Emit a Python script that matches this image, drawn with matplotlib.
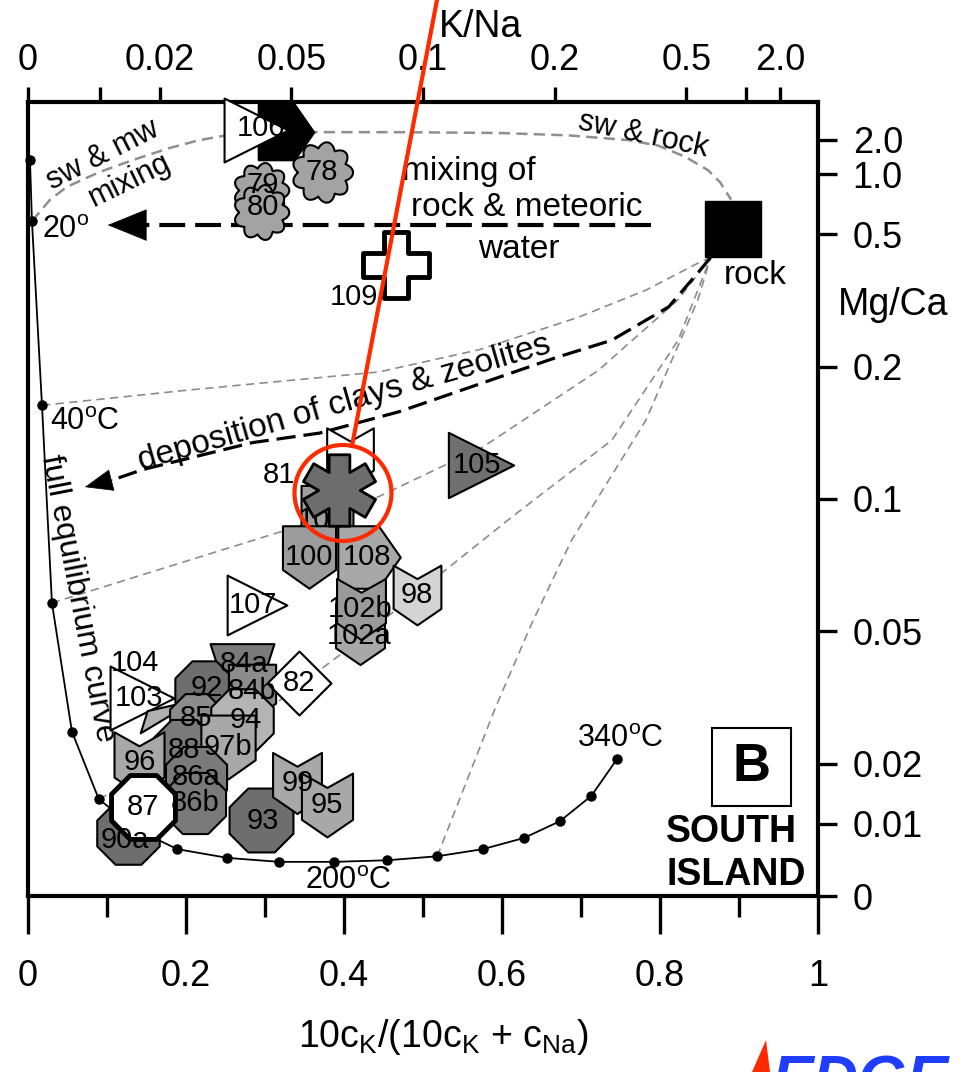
import numpy as np
import matplotlib
matplotlib.use('Agg')
import matplotlib.pyplot as plt
from matplotlib.path import Path
from matplotlib.patches import Rectangle, Ellipse, Polygon
from matplotlib.lines import Line2D

plt.rcParams['font.family'] = ['Liberation Sans', 'DejaVu Sans']
plt.rcParams['mathtext.fontset'] = 'custom'
plt.rcParams['mathtext.rm'] = 'Liberation Sans'
plt.rcParams['mathtext.it'] = 'Liberation Sans:italic'
plt.rcParams['mathtext.bf'] = 'Liberation Sans:bold'

# ---------------- data ----------------
# axis tick values
x_major = [0, 0.2, 0.4, 0.6, 0.8, 1.0]
x_major_labels = ['0', '0.2', '0.4', '0.6', '0.8', '1']
x_minor = [0.1, 0.3, 0.5, 0.7, 0.9]
kna_ticks = [0, 0.01, 0.02, 0.05, 0.1, 0.2, 0.5, 1.0, 2.0]
kna_labels = ['0', '', '0.02', '0.05', '0.1', '0.2', '0.5', '', '2.0']
mgca_ticks = [0, 0.01, 0.02, 0.05, 0.1, 0.2, 0.5, 1.0, 2.0]
mgca_labels = ['0', '0.01', '0.02', '0.05', '0.1', '0.2', '0.5', '1.0', '2.0']

# full equilibrium curve (0 .. 340 C)
eq_x = [0.0025, 0.005, 0.0177, 0.0303, 0.0556, 0.0896, 0.139, 0.189, 0.2525, 0.318,
        0.3876, 0.4545, 0.5177, 0.5758, 0.6275, 0.673, 0.713, 0.746]
eq_y = [0.927, 0.850, 0.618, 0.369, 0.207, 0.122, 0.083, 0.059, 0.048, 0.043,
        0.043, 0.045, 0.050, 0.059, 0.073, 0.094, 0.126, 0.173]

# seawater & meteoric water mixing -> seawater & rock
sw_x = [0.005, 0.028, 0.049, 0.091, 0.133, 0.179, 0.217, 0.268, 0.356, 0.470, 0.596,
        0.684, 0.760, 0.798, 0.832, 0.861, 0.876, 0.890]
sw_y = [0.850, 0.877, 0.893, 0.912, 0.927, 0.942, 0.952, 0.961, 0.962, 0.962, 0.961,
        0.958, 0.952, 0.945, 0.931, 0.914, 0.899, 0.877]

# rock end member
rock_x, rock_y = 0.893, 0.840

# mixing of rock & meteoric water arrow
mix_x = [0.788, 0.101]
mix_y = [0.845, 0.845]

# lines from rock to equilibrium curve
fan_a_x = [0.0177, 0.201, 0.444, 0.571, 0.697, 0.782, 0.848, 0.864]
fan_a_y = [0.618, 0.637, 0.660, 0.688, 0.729, 0.763, 0.797, 0.804]
dep_x = [0.864, 0.848, 0.811, 0.739, 0.668, 0.470, 0.369, 0.284, 0.145, 0.107, 0.072]
dep_y = [0.804, 0.785, 0.742, 0.700, 0.678, 0.610, 0.583, 0.571, 0.537, 0.524, 0.515]
fan_c_x = [0.030, 0.340, 0.444, 0.575, 0.722, 0.823, 0.864]
fan_c_y = [0.369, 0.465, 0.503, 0.565, 0.662, 0.751, 0.804]
fan_d_x = [0.090, 0.302, 0.398, 0.524, 0.612, 0.739, 0.823, 0.864]
fan_d_y = [0.122, 0.234, 0.306, 0.407, 0.477, 0.574, 0.700, 0.804]
fan_e_x = [0.518, 0.592, 0.638, 0.688, 0.782, 0.848, 0.864]
fan_e_y = [0.050, 0.238, 0.344, 0.448, 0.599, 0.751, 0.804]

# samples (drawing order)
s_shape = ['pent_r', 'tri_r', 'cloud', 'cloud', 'cloud', 'cross', 'chevron', 'pent_down',
           'pent_down', 'pent_r', 'star', 'tri_r', 'chevron', 'chevron', 'chevron', 'tri_r',
           'tri_r', 'wedge', 'trap', 'octagon', 'pent_down', 'diamond', 'octagon', 'octagon',
           'octagon', 'pent_down', 'chevron', 'octagon', 'octagon', 'octagon', 'octagon',
           'octagon', 'chevron', 'chevron']
s_fill = ['black', 'white', '#a3a3a3', '#a3a3a3', '#a3a3a3', 'white', 'white', '#a0a0a0',
          '#9c9c9c', '#a8a8a8', '#6d6d6d', '#707070', '#a8a8a8', '#9a9a9a', '#d4d4d4', 'white',
          'white', '#b0b0b0', '#7a7a7a', '#6e6e6e', '#8c8c8c', 'white', '#8c8c8c', '#b4b4b4',
          '#7a7a7a', '#a8a8a8', '#a8a8a8', '#7a7a7a', '#7a7a7a', '#6e6e6e', 'white',
          '#6e6e6e', '#a8a8a8', '#a8a8a8']
s_x = [0.326, 0.288, 0.372, 0.295, 0.295, 0.466, 0.407, 0.378, 0.356, 0.432, 0.394, 0.573,
       0.420, 0.422, 0.492, 0.290, 0.144, 0.177, 0.271, 0.223, 0.284, 0.343, 0.213, 0.271,
       0.198, 0.253, 0.141, 0.213, 0.211, 0.126, 0.145, 0.295, 0.341, 0.378]
s_y = [0.962, 0.965, 0.912, 0.889, 0.862, 0.795, 0.553, 0.478, 0.427, 0.427, 0.511, 0.543,
       0.330, 0.362, 0.379, 0.366, 0.249, 0.232, 0.290, 0.259, 0.257, 0.268, 0.222, 0.222,
       0.184, 0.188, 0.167, 0.150, 0.117, 0.079, 0.112, 0.096, 0.142, 0.115]
s_size = [40, 46, 44, 40, 40, 47, 42, 44, 45, 45, 52, 47, 44, 44, 43, 43, 46, 40, 46, 42, 40,
          46, 38, 45, 44, 46, 45, 44, 44, 45, 46, 46, 44, 46]
s_label = ['', '106', '78', '79', '80', '109', '', '101', '100', '108', '81', '105', '102a',
           '102b', '98', '107', '103', '104', '84a', '92', '84b', '82', '85', '94', '88', '97b',
           '96', '86a', '86b', '90a', '87', '93', '99', '95']
s_lx = [0, 0.295, 0.372, 0.297, 0.297, 0.413, 0, 0.372, 0.356, 0.429, 0.318, 0.568, 0.419,
        0.420, 0.492, 0.285, 0.141, 0.135, 0.273, 0.226, 0.284, 0.343, 0.213, 0.275, 0.198,
        0.253, 0.141, 0.213, 0.211, 0.122, 0.145, 0.297, 0.341, 0.378]
s_ly = [0, 0.967, 0.912, 0.895, 0.868, 0.754, 0, 0.474, 0.427, 0.427, 0.530, 0.543, 0.327,
        0.362, 0.379, 0.366, 0.249, 0.294, 0.292, 0.262, 0.258, 0.268, 0.224, 0.222, 0.184,
        0.188, 0.169, 0.150, 0.117, 0.071, 0.112, 0.094, 0.142, 0.115]
s_edge = [1.5, 1.5, 1.5, 1.5, 1.5, 3.5, 1.5, 1.5, 1.5, 1.5, 2.0, 1.5, 1.5, 1.5, 1.5, 1.5,
          1.5, 1.5, 1.5, 1.5, 1.5, 1.5, 1.5, 1.5, 1.5, 1.5, 1.5, 1.5, 1.5, 1.5, 3.5, 1.5, 1.5, 1.5]
# labels hidden behind later markers
s_label_behind = ['101']


# ---------------- marker shapes ----------------
def closed(v):
    v = np.asarray(v, float)
    return Path(np.vstack([v, v[:1]]), closed=True)


def star_verts(w=0.29):
    out = []
    for k in range(6):
        a = np.deg2rad(90 + 60 * k)
        d = np.array([np.cos(a), np.sin(a)])
        n = np.array([-np.sin(a), np.cos(a)])
        out += [d - n * w, d + n * w]
        b = a + np.deg2rad(30)
        out.append(2 * w * np.array([np.cos(b), np.sin(b)]))
    return out


_t = np.linspace(0, 2 * np.pi, 180, endpoint=False)
_r = 0.80 + 0.20 * np.abs(np.cos(4.5 * _t))
_oa = np.deg2rad(22.5 + 45 * np.arange(8))
_c = 0.36
SHAPES = {
    'tri_r': closed([(-1, -1), (1, 0), (-1, 1)]),
    'pent_r': closed([(-1, -1), (0.3, -1), (1, 0), (0.3, 1), (-1, 1)]),
    'chevron': closed([(-0.8, 1), (0, 0.55), (0.8, 1), (0.8, -0.45), (0, -1), (-0.8, -0.45)]),
    'pent_down': closed([(-0.85, 1), (0.85, 1), (0.85, -0.4), (0, -1), (-0.85, -0.4)]),
    'octagon': closed(np.column_stack([np.cos(_oa), np.sin(_oa)])),
    'diamond': closed([(0, 1), (1, 0), (0, -1), (-1, 0)]),
    'trap': closed([(-1, 0.7), (1, 0.7), (0.55, -0.7), (-0.55, -0.7)]),
    'cross': closed([(-_c, 1), (_c, 1), (_c, _c), (1, _c), (1, -_c), (_c, -_c), (_c, -1),
                     (-_c, -1), (-_c, -_c), (-1, -_c), (-1, _c), (-_c, _c)]),
    'cloud': closed(np.column_stack([_r * np.cos(_t), _r * np.sin(_t)])),
    'star': closed(star_verts()),
    'wedge': closed([(-1, -0.75), (1, 0.45), (-0.75, 0.05)]),
}

# ---------------- figure ----------------
W, H = 973, 1072
fig = plt.figure(figsize=(W / 100, H / 100), dpi=100)
fig.patch.set_facecolor('white')
ax = fig.add_axes([28 / W, 1 - 896 / H, 790 / W, 794 / H])
ax.set_xlim(0, 1)
ax.set_ylim(0, 1)

for sp in ax.spines.values():
    sp.set_linewidth(3)

# bottom axis
ax.set_xticks(x_major)
ax.set_xticklabels(x_major_labels, fontsize=26)
ax.set_xticks(x_minor, minor=True)
ax.tick_params(axis='x', which='major', direction='out', length=27, width=2.4, pad=18)
ax.tick_params(axis='x', which='minor', direction='out', length=15, width=2.4)

# right axis (Mg/Ca)
mg_pos = [10 * m / (10 * m + 1) for m in mgca_ticks]
ax.yaxis.tick_right()
ax.set_yticks(mg_pos)
ax.set_yticklabels(mgca_labels, fontsize=26)
ax.tick_params(axis='y', which='major', direction='out', length=14, width=2.4, pad=11,
               right=True, left=False)

# top axis (K/Na)
axt = ax.twiny()
axt.set_xlim(0, 1)
kna_pos = [10 * r / (10 * r + 1) for r in kna_ticks]
axt.set_xticks(kna_pos)
axt.set_xticklabels(kna_labels, fontsize=26)
axt.tick_params(axis='x', direction='out', length=11, width=2.4, pad=6)
for sp in axt.spines.values():
    sp.set_visible(False)

ax.set_zorder(1)
axt.set_zorder(0)
ax.patch.set_visible(False)

GRAY = '#8c8c8c'
thin_ls = (0, (5, 3.2))

# sw & mw mixing / sw & rock
ax.plot(sw_x, sw_y, color='#8f8f8f', lw=1.8, ls=(0, (4.5, 2.5)), zorder=2)

# fan lines from rock
for fx, fy in [(fan_a_x, fan_a_y), (fan_c_x, fan_c_y), (fan_d_x, fan_d_y), (fan_e_x, fan_e_y)]:
    ax.plot(fx, fy, color=GRAY, lw=1.2, ls=thin_ls, zorder=2)

# deposition of clays & zeolites arrow
ax.plot(dep_x[:-1], dep_y[:-1], color='k', lw=2.3, ls=(0, (6, 2.5)), zorder=3)
ax.annotate('', xy=(dep_x[-1], dep_y[-1]), xytext=(dep_x[-2], dep_y[-2]),
            arrowprops=dict(arrowstyle='-|>,head_length=1.9,head_width=0.75', color='k',
                            lw=0.5, shrinkA=0, shrinkB=0, mutation_scale=10), zorder=3)

# mixing of rock and meteoric water arrow
ax.plot([mix_x[0], mix_x[1] + 0.045], mix_y, color='k', lw=3.0, ls=(0, (6.2, 2.4)), zorder=3)
ax.annotate('', xy=(mix_x[1], mix_y[1]), xytext=(mix_x[1] + 0.05, mix_y[1]),
            arrowprops=dict(arrowstyle='-|>,head_length=2.7,head_width=1.1', color='k',
                            lw=0.5, shrinkA=0, shrinkB=0, mutation_scale=10), zorder=3)

# equilibrium curve
ax.plot(eq_x, eq_y, color='k', lw=1.3, marker='o', ms=6.5, zorder=4, clip_on=False)

# rock
ax.plot([rock_x], [rock_y], marker='s', ms=40, mfc='k', mec='k', ls='none', zorder=5)

# samples
for i in range(len(s_x)):
    z = 10 + i
    ax.plot([s_x[i]], [s_y[i]], marker=SHAPES[s_shape[i]], ms=s_size[i], mfc=s_fill[i],
            mec='k', mew=s_edge[i], ls='none', zorder=z, clip_on=False)
    if s_label[i]:
        lz = z + 0.5 if s_label[i] in s_label_behind else 60 + i
        ax.text(s_lx[i], s_ly[i], s_label[i], fontsize=21, ha='center', va='center',
                zorder=lz)

# annotations
ax.text(0.558, 0.912, 'mixing of', fontsize=24, ha='center', va='center', zorder=6)
ax.text(0.631, 0.867, 'rock & meteoric', fontsize=24, ha='center', va='center', zorder=6)
ax.text(0.621, 0.814, 'water', fontsize=24, ha='center', va='center', zorder=6)
ax.text(0.920, 0.782, 'rock', fontsize=24, ha='center', va='center', zorder=6)
ax.text(0.779, 0.958, 'sw & rock', fontsize=22, ha='center', va='center', rotation=-12, zorder=6)
ax.text(0.095, 0.933, 'sw & mw', fontsize=22, ha='center', va='center', rotation=27, zorder=6)
ax.text(0.129, 0.902, 'mixing', fontsize=22, ha='center', va='center', rotation=26, zorder=6)
ax.text(0.047, 0.839, '20$^\\mathrm{o}$', fontsize=22, ha='center', va='center', zorder=6)
ax.text(0.072, 0.597, '40$^\\mathrm{o}$C', fontsize=22, ha='center', va='center', zorder=6)
ax.text(0.405, 0.019, '200$^\\mathrm{o}$C', fontsize=22, ha='center', va='center', zorder=6)
ax.text(0.750, 0.198, '340$^\\mathrm{o}$C', fontsize=22, ha='center', va='center', zorder=6)
ax.text(0.0631, 0.375, 'full equilibrium curve', fontsize=23, ha='center', va='center',
        rotation=-79, zorder=6)
ax.text(0.400, 0.621, 'deposition of clays & zeolites', fontsize=24, ha='center',
        va='center', rotation=16, zorder=6)

ax.add_patch(Rectangle((0.866, 0.113), 0.100, 0.099, transform=ax.transAxes, fill=False,
                       lw=1.5, ec='k', zorder=6))
ax.text(0.916, 0.162, 'B', fontsize=38, fontweight='bold', ha='center', va='center', zorder=6)
ax.text(0.891, 0.080, 'SOUTH', fontsize=27, fontweight='bold', ha='center', va='center', zorder=6)
ax.text(0.896, 0.026, 'ISLAND', fontsize=27, fontweight='bold', ha='center', va='center', zorder=6)

# axis titles
fig.text(443 / W, 1 - 1037 / H, '10c$_\\mathrm{K}$/(10c$_\\mathrm{K}$ + c$_\\mathrm{Na}$)',
         fontsize=27, ha='center', va='center')
fig.text(480 / W, 1 - 27 / H, 'K/Na', fontsize=27, ha='center', va='center')
fig.text(838 / W, 1 - 305 / H, 'Mg/Ca', fontsize=27, ha='left', va='center')

# overlay highlight (red pointer and circle) and watermark
RED = '#ff2a00'
fig.add_artist(Line2D([437 / W, 352 / W], [1.0, 1 - 446 / H], color=RED, lw=3,
                      transform=fig.transFigure, zorder=50))
fig.add_artist(Ellipse((343 / W, 1 - 493 / H), 97 / W, 96 / H, fill=False, ec=RED, lw=3,
                       transform=fig.transFigure, zorder=50))
fig.add_artist(Polygon([(752 / W, 0.0), (766 / W, 1 - 1040 / H), (770 / W, 0.0)],
                       closed=True, fc=RED, ec='none', transform=fig.transFigure, zorder=50))
fig.text(772 / W, 1 - 1099 / H, 'EDGE', fontsize=45, fontweight='bold', style='italic',
         color='#1f3dff', ha='left', va='baseline')

fig.savefig('out.png', dpi=100)
